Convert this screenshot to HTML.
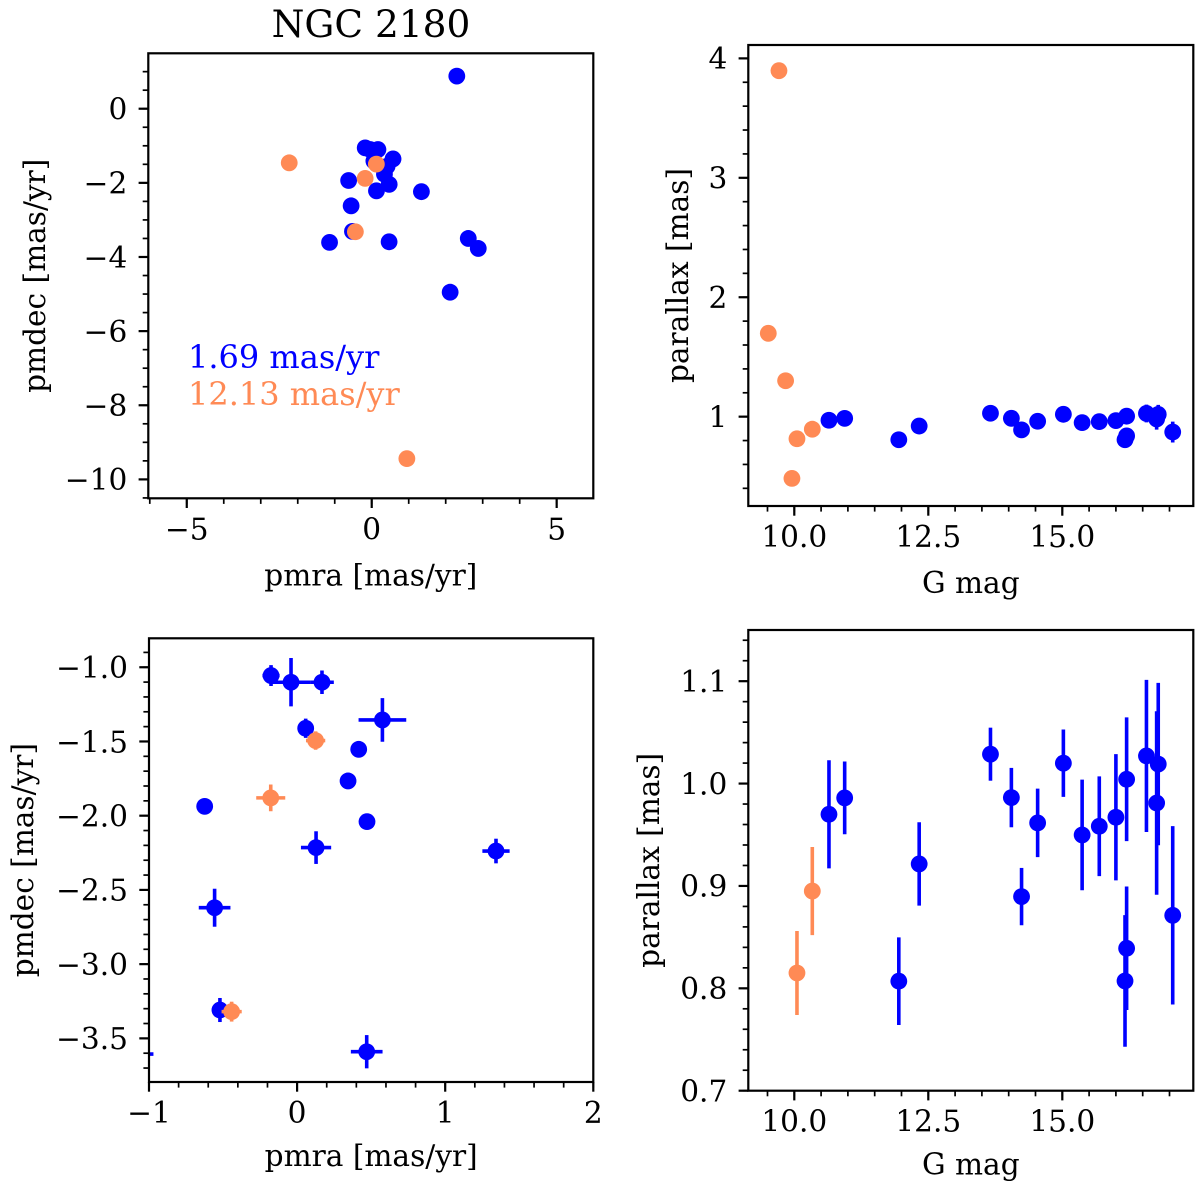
<!DOCTYPE html>
<html><head><meta charset="utf-8"><title>NGC 2180</title>
<style>
html,body{margin:0;padding:0;background:#fff;overflow:hidden;}
svg{display:block;font-family:"DejaVu Serif","Liberation Serif",serif;}
</style></head>
<body>
<svg id="fig" xmlns="http://www.w3.org/2000/svg" width="1200" height="1188" viewBox="0 0 1200 1188">
<rect width="1200" height="1188" fill="#fff"/>
<text x="371" y="37" text-anchor="middle" font-size="37.5">NGC 2180</text>
</svg>
<script>
// ---- data ----
const pmraBlue   = [-0.176,-0.041,0.168,0.576,0.058,0.416,0.344,-0.624,0.472,0.128,1.343,-0.557,-0.521,0.470,-1.14,2.30,2.61,2.88,2.12];
const pmdecBlue  = [-1.056,-1.101,-1.101,-1.355,-1.411,-1.553,-1.766,-1.937,-2.040,-2.215,-2.238,-2.620,-3.309,-3.590,-3.606,0.88,-3.50,-3.77,-4.95];
const pmraErrBlue  = [0.058,0.13,0.08,0.161,0.054,0.02,0.02,0.02,0.02,0.102,0.092,0.107,0.04,0.107,0.17,0.05,0.05,0.05,0.05];
const pmdecErrBlue = [0.07,0.163,0.079,0.147,0.065,0.02,0.02,0.02,0.02,0.11,0.083,0.128,0.081,0.112,0.02,0.05,0.05,0.05,0.05];
const pmraOrange   = [0.125,-0.178,-0.442,-2.23,0.95];
const pmdecOrange  = [-1.494,-1.880,-3.320,-1.46,-9.44];
const pmraErrOrange  = [0.065,0.098,0.068,0.05,0.05];
const pmdecErrOrange = [0.062,0.09,0.067,0.05,0.05];

const gmagBlue = [10.647,10.94,11.95,12.33,13.66,14.05,14.24,14.54,15.02,15.37,15.69,16.00,16.20,16.17,16.20,16.57,16.76,16.79,17.06];
const plxBlue  = [0.970,0.986,0.807,0.9215,1.0287,0.9863,0.8896,0.9616,1.0199,0.9498,0.9583,0.9671,1.0042,0.8072,0.8391,1.027,0.981,1.019,0.8713];
const plxErrBlue = [0.0528,0.0355,0.0428,0.0407,0.0259,0.029,0.028,0.0334,0.0329,0.054,0.0487,0.0616,0.0604,0.0643,0.0603,0.0743,0.0896,0.0793,0.0871];
const gmagOrange = [9.515,9.714,9.838,9.956,10.05,10.336];
const plxOrange  = [1.698,3.897,1.301,0.483,0.815,0.895];
const plxErrOrange = [0.05,0.05,0.05,0.05,0.041,0.043];

const tlXTicks=[-5,0,5], tlXLabels=["\u22125","0","5"];
const tlYTicks=[0,-2,-4,-6,-8,-10], tlYLabels=["0","\u22122","\u22124","\u22126","\u22128","\u221210"];
const blXTicks=[-1,0,1,2], blXLabels=["\u22121","0","1","2"];
const blYTicks=[-1,-1.5,-2,-2.5,-3,-3.5], blYLabels=["\u22121.0","\u22121.5","\u22122.0","\u22122.5","\u22123.0","\u22123.5"];
const trXTicks=[10,12.5,15], trXLabels=["10.0","12.5","15.0"];
const trYTicks=[1,2,3,4], trYLabels=["1","2","3","4"];
const brXTicks=[10,12.5,15], brXLabels=["10.0","12.5","15.0"];
const brYTicks=[0.7,0.8,0.9,1.0,1.1], brYLabels=["0.7","0.8","0.9","1.0","1.1"];

const BLUE="#0000ff", ORANGE="#ff8a55";
const FS=29.6;
const NS="http://www.w3.org/2000/svg";
const svg=document.getElementById('fig');
function mk(tag,attrs,parent){const e=document.createElementNS(NS,tag);for(const k in attrs)e.setAttribute(k,attrs[k]);(parent||svg).appendChild(e);return e;}

function panel(p){
  const g=mk('g',{});
  
  
  const sx=v=>p.l+(v-p.xmin)/(p.xmax-p.xmin)*(p.r-p.l);
  const sy=v=>p.b-(v-p.ymin)/(p.ymax-p.ymin)*(p.b-p.t);
  const cid='clip-'+p.name;
  const cp=mk('clipPath',{id:cid},g);
  mk('rect',{x:p.l,y:p.t,width:p.r-p.l,height:p.b-p.t},cp);
  const marks=mk('g',{'clip-path':'url(#'+cid+')'},g);
  
  
  p.series.forEach(s=>{
    const sg=mk('g',{},marks);
    
    
    for(let i=0;i<s.x.length;i++){
      const cx=sx(s.x[i]), cy=sy(s.y[i]);
      if(s.xe){
        const eb=mk('line',{x1:sx(s.x[i]-s.xe[i]),x2:sx(s.x[i]+s.xe[i]),y1:cy,y2:cy,stroke:s.color,'stroke-width':3.6},sg);
        
        
      }
      if(s.ye){
        const eb=mk('line',{x1:cx,x2:cx,y1:sy(s.y[i]-s.ye[i]),y2:sy(s.y[i]+s.ye[i]),stroke:s.color,'stroke-width':3.6},sg);
        
        
      }
      const c=mk('circle',{cx:cx,cy:cy,r:8.4,fill:s.color},sg);
      
      
    }
  });
  for(let v=Math.ceil(p.xmin/p.xminor-1e-9)*p.xminor; v<=p.xmax+1e-9; v+=p.xminor){
    const x=sx(v); mk('line',{x1:x,x2:x,y1:p.b,y2:p.b+5.6,stroke:'#000','stroke-width':1.7},g);
  }
  for(let v=Math.ceil(p.ymin/p.yminor-1e-9)*p.yminor; v<=p.ymax+1e-9; v+=p.yminor){
    const y=sy(v); mk('line',{x1:p.l,x2:p.l-5.6,y1:y,y2:y,stroke:'#000','stroke-width':1.7},g);
  }
  p.xt.forEach((v,i)=>{
    const x=sx(v); mk('line',{x1:x,x2:x,y1:p.b,y2:p.b+9.7,stroke:'#000','stroke-width':2.2},g);
    const t=mk('text',{x:x,y:p.b+41,'text-anchor':'middle','font-size':FS},g);
    t.textContent=p.xl[i];
    
    
  });
  p.yt.forEach((v,i)=>{
    const y=sy(v); mk('line',{x1:p.l,x2:p.l-9.7,y1:y,y2:y,stroke:'#000','stroke-width':2.2},g);
    const t=mk('text',{x:p.l-21,y:y+10.8,'text-anchor':'end','font-size':FS},g);
    t.textContent=p.yl[i];
    
    
  });
  const fr=mk('rect',{x:p.l,y:p.t,width:p.r-p.l,height:p.b-p.t,fill:'none',stroke:'#000','stroke-width':2.2},g);
  
  
  const xt=mk('text',{x:(p.l+p.r)/2,y:p.b+p.xlo,'text-anchor':'middle','font-size':FS},g);
  xt.textContent=p.xlabel;
  
  
  const yc=(p.t+p.b)/2;
  const yt=mk('text',{x:p.ylx,y:yc,'text-anchor':'middle','font-size':FS,transform:'rotate(-90 '+p.ylx+' '+yc+')'},g);
  yt.textContent=p.ylabel;
  
  
}

panel({name:'pm-overview-panel',l:148.3,r:593.3,t:53.3,b:498.3,xmin:-6.04,xmax:5.99,ymin:-10.51,ymax:1.495,
  xminor:1,yminor:0.5,xt:tlXTicks,xl:tlXLabels,yt:tlYTicks,yl:tlYLabels,xlabel:'pmra [mas/yr]',ylabel:'pmdec [mas/yr]',ylx:45,xlo:87,
  series:[{name:'members-blue',x:pmraBlue,y:pmdecBlue,xe:pmraErrBlue,ye:pmdecErrBlue,color:BLUE},
          {name:'non-members-orange',x:pmraOrange,y:pmdecOrange,xe:pmraErrOrange,ye:pmdecErrOrange,color:ORANGE}]});
panel({name:'pm-zoom-panel',l:149,r:593.3,t:638.3,b:1082,xmin:-1,xmax:2,ymin:-3.794,ymax:-0.805,
  xminor:0.2,yminor:0.1,xt:blXTicks,xl:blXLabels,yt:blYTicks,yl:blYLabels,xlabel:'pmra [mas/yr]',ylabel:'pmdec [mas/yr]',ylx:33,xlo:84,
  series:[{name:'members-blue',x:pmraBlue,y:pmdecBlue,xe:pmraErrBlue,ye:pmdecErrBlue,color:BLUE},
          {name:'non-members-orange',x:pmraOrange,y:pmdecOrange,xe:pmraErrOrange,ye:pmdecErrOrange,color:ORANGE}]});
panel({name:'parallax-overview-panel',l:748.3,r:1193.3,t:45,b:506,xmin:9.142,xmax:17.444,ymin:0.252,ymax:4.112,
  xminor:0.5,yminor:0.2,xt:trXTicks,xl:trXLabels,yt:trYTicks,yl:trYLabels,xlabel:'G mag',ylabel:'parallax [mas]',ylx:688,xlo:87,
  series:[{name:'members-blue',x:gmagBlue,y:plxBlue,ye:plxErrBlue,color:BLUE},
          {name:'non-members-orange',x:gmagOrange,y:plxOrange,ye:plxErrOrange,color:ORANGE}]});
panel({name:'parallax-zoom-panel',l:748.3,r:1193.3,t:630,b:1090.7,xmin:9.142,xmax:17.444,ymin:0.7,ymax:1.150,
  xminor:0.5,yminor:0.02,xt:brXTicks,xl:brXLabels,yt:brYTicks,yl:brYLabels,xlabel:'G mag',ylabel:'parallax [mas]',ylx:659,xlo:84,
  series:[{name:'members-blue',x:gmagBlue,y:plxBlue,ye:plxErrBlue,color:BLUE},
          {name:'non-members-orange',x:gmagOrange,y:plxOrange,ye:plxErrOrange,color:ORANGE}]});

const a1=mk('text',{x:188,y:368,'font-size':32,fill:BLUE});
a1.textContent='1.69 mas/yr';


const a2=mk('text',{x:188,y:405,'font-size':32,fill:ORANGE});
a2.textContent='12.13 mas/yr';


</script>
</body></html>
